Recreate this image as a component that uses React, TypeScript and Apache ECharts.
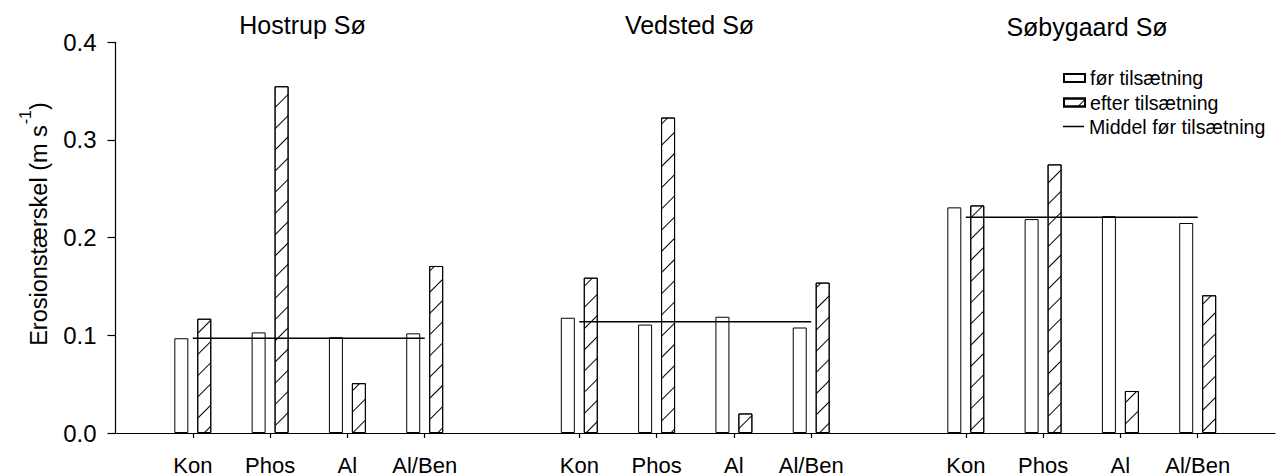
import { useEffect, useRef } from 'react';
import * as echarts from 'echarts';

const lakes = ['Hostrup Sø', 'Vedsted Sø', 'Søbygaard Sø'];
const treatments = ['Kon', 'Phos', 'Al', 'Al/Ben'];
const beforeHostrup = [0.097, 0.103, 0.098, 0.102];
const afterHostrup = [0.117, 0.355, 0.051, 0.171];
const beforeVedsted = [0.118, 0.111, 0.119, 0.108];
const afterVedsted = [0.159, 0.323, 0.020, 0.154];
const beforeSobygaard = [0.231, 0.219, 0.222, 0.215];
const afterSobygaard = [0.233, 0.275, 0.043, 0.141];
const meanBefore = [0.097, 0.114, 0.221];
const yTicks = [0, 0.1, 0.2, 0.3, 0.4];
const legendNames = ['før tilsætning', 'efter tilsætning', 'Middel før tilsætning'];

const FONT = '"Liberation Sans", Arial, Helvetica, sans-serif';

function buildCategories(): string[] {
  const cats: string[] = ['gap|'];
  lakes.forEach((lake, i) => {
    treatments.forEach((t) => cats.push(lake + '|' + t));
    cats.push('gap' + i + '|');
  });
  return cats;
}

function buildSeries(groups: number[][]): (number | null)[] {
  const out: (number | null)[] = [null];
  groups.forEach((g) => {
    g.forEach((v) => out.push(v));
    out.push(null);
  });
  return out;
}

export default function App() {
  const ref = useRef<HTMLDivElement>(null);

  useEffect(() => {
    if (!ref.current) return;
    const chart = echarts.init(ref.current, null, { renderer: 'svg' });
    const categories = buildCategories();
    const before = buildSeries([beforeHostrup, beforeVedsted, beforeSobygaard]);
    const after = buildSeries([afterHostrup, afterVedsted, afterSobygaard]);
    const means = buildSeries(meanBefore.map((m) => treatments.map(() => m)));

    const legendText = { fontSize: 19.6, color: '#000', fontFamily: FONT };

    chart.setOption({
      animation: false,
      backgroundColor: '#fff',
      textStyle: { fontFamily: FONT },
      grid: { left: 115.5, top: 42.3, width: 1172.5, height: 391, containLabel: false },
      legend: [
        {
          data: [
            { name: legendNames[0], icon: 'rect' },
            { name: legendNames[1], icon: 'rect' },
          ],
          orient: 'vertical',
          left: 1063,
          top: 68,
          itemWidth: 21,
          itemHeight: 8,
          itemGap: 4.5,
          padding: 0,
          selectedMode: false,
          textStyle: legendText,
        },
        {
          data: [{ name: legendNames[2], icon: 'rect' }],
          orient: 'vertical',
          left: 1063,
          top: 116.5,
          itemWidth: 21,
          itemHeight: 1.5,
          padding: 0,
          selectedMode: false,
          textStyle: legendText,
        },
      ],
      graphic: [
        {
          type: 'text', x: 302.5, y: 25,
          style: { text: lakes[0], fill: '#000', font: `25px ${FONT}`, textAlign: 'center', textVerticalAlign: 'middle' },
        },
        {
          type: 'text', x: 689.5, y: 25,
          style: { text: lakes[1], fill: '#000', font: `25px ${FONT}`, textAlign: 'center', textVerticalAlign: 'middle' },
        },
        {
          type: 'text', x: 1087, y: 27,
          style: { text: lakes[2], fill: '#000', font: `25px ${FONT}`, textAlign: 'center', textVerticalAlign: 'middle' },
        },
        {
          type: 'text', x: 34, y: 224, rotation: Math.PI / 2,
          style: {
            text: '{a|Erosionstærskel (m s}{sup|-1}{a|)}',
            fill: '#000',
            textAlign: 'center',
            textVerticalAlign: 'middle',
            rich: {
              a: { fontSize: 23.5, lineHeight: 34, verticalAlign: 'bottom', fontFamily: FONT, fill: '#000' },
              sup: { fontSize: 16, lineHeight: 16, verticalAlign: 'top', fontFamily: FONT, fill: '#000', padding: [0, 0, 0, 1] },
            },
          },
        },
      ],
      xAxis: {
        type: 'category',
        data: categories,
        boundaryGap: false,
        axisLine: { show: true, lineStyle: { color: '#000', width: 1.2 } },
        axisTick: {
          show: true,
          length: 5,
          lineStyle: { color: '#000', width: 1.2 },
          interval: (_i: number, v: string) => !v.startsWith('gap'),
        },
        axisLabel: {
          interval: 0,
          margin: 21,
          fontSize: 22,
          color: '#000',
          fontFamily: FONT,
          formatter: (v: string) => v.split('|')[1] || '',
        },
        splitLine: { show: false },
      },
      yAxis: {
        type: 'value',
        min: yTicks[0],
        max: yTicks[yTicks.length - 1],
        interval: 0.1,
        axisLine: { show: true, lineStyle: { color: '#000', width: 1.2 } },
        axisTick: { show: true, length: 8, lineStyle: { color: '#000', width: 1.2 } },
        axisLabel: {
          margin: 19,
          fontSize: 24,
          color: '#000',
          fontFamily: FONT,
          formatter: (v: number) => v.toFixed(1),
        },
        splitLine: { show: false },
      },
      series: [
        {
          name: legendNames[0],
          type: 'bar',
          data: before,
          barWidth: 14,
          barGap: '64%',
          itemStyle: { color: '#fff', borderColor: '#000', borderWidth: 1 },
        },
        {
          name: legendNames[1],
          type: 'bar',
          data: after,
          barWidth: 14,
          barGap: '64%',
          itemStyle: {
            color: '#fff',
            borderColor: '#000',
            borderWidth: 1,
            decal: {
              symbol: 'rect',
              symbolSize: 1,
              dashArrayX: [1, 0],
              dashArrayY: [1, 14],
              rotation: -Math.PI / 4,
              color: '#000',
              backgroundColor: '#fff',
            },
          },
        },
        {
          name: legendNames[2],
          type: 'line',
          data: means,
          symbol: 'none',
          connectNulls: false,
          z: 5,
          lineStyle: { color: '#000', width: 1.5 },
          itemStyle: { color: '#000' },
        },
      ],
    });
    return () => chart.dispose();
  }, []);

  return <div ref={ref} style={{ width: 1278, height: 476, position: 'absolute', left: 0, top: 0 }} />;
}
